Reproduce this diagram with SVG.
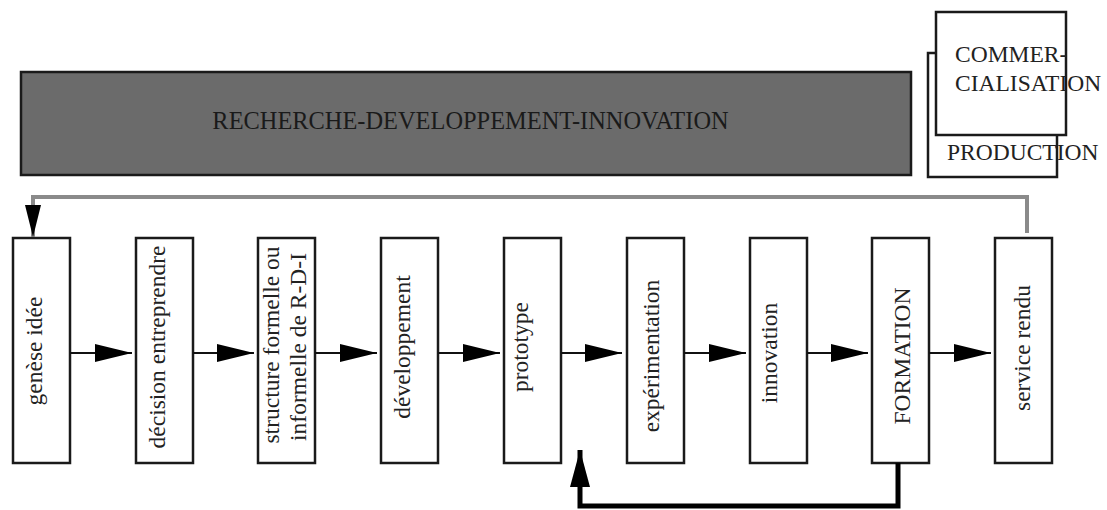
<svg xmlns="http://www.w3.org/2000/svg" width="1107" height="510" viewBox="0 0 1107 510">
<style>
.box{fill:#fff;stroke:#1a1a1a;stroke-width:2.5}
.t{font-family:"Liberation Serif","Times New Roman",serif;font-size:23.5px;fill:#222}
.big{font-family:"Liberation Serif","Times New Roman",serif;font-size:24.4px;fill:#1a1a1a;text-anchor:middle}
.vt{font-family:"Liberation Serif","Times New Roman",serif;font-size:23.5px;fill:#222;text-anchor:middle}
.ln{fill:none;stroke:#111;stroke-width:2}
</style>
<defs>
<marker id="ah" markerUnits="userSpaceOnUse" markerWidth="37" markerHeight="18" refX="37" refY="9" orient="auto">
<path d="M0,0 L37,9 L0,18 z" fill="#000"/>
</marker>
<marker id="ahTop" markerUnits="userSpaceOnUse" markerWidth="32" markerHeight="16" refX="32" refY="8" orient="auto">
<path d="M0,0 L32,8 L0,16 z" fill="#000"/>
</marker>
<marker id="ahUp" markerUnits="userSpaceOnUse" markerWidth="37" markerHeight="20" refX="37" refY="10" orient="auto">
<path d="M0,0 L37,10 L0,20 z" fill="#000"/>
</marker>
</defs>

<g id="rdi">
<rect x="21" y="72" width="890" height="103" fill="#6b6b6b" stroke="#1a1a1a" stroke-width="2.5"/>
<text class="big" x="470.5" y="129">RECHERCHE-DEVELOPPEMENT-INNOVATION</text>
</g>

<g id="production">
<rect class="box" x="928" y="53" width="129" height="124"/>
<text class="t" x="947" y="160">PRODUCTION</text>
</g>
<g id="commercialisation">
<rect class="box" x="936" y="12" width="130" height="123"/>
<text class="t" x="955" y="62">COMMER-</text>
<text class="t" x="955" y="91">CIALISATION</text>
</g>

<g id="n1"><rect class="box" x="13" y="238" width="57" height="225"/>
<text class="vt" transform="translate(42,351) rotate(-90)">genèse idée</text></g>
<g id="n2"><rect class="box" x="136" y="238" width="57" height="225"/>
<text class="vt" transform="translate(165,347) rotate(-90)">décision entreprendre</text></g>
<g id="n3"><rect class="box" x="258" y="238" width="57" height="225"/>
<text class="vt" transform="translate(279,345) rotate(-90)">structure formelle ou</text>
<text class="vt" transform="translate(306,347) rotate(-90)">informelle de R-D-I</text></g>
<g id="n4"><rect class="box" x="381" y="238" width="57" height="225"/>
<text class="vt" transform="translate(410,347) rotate(-90)">développement</text></g>
<g id="n5"><rect class="box" x="504" y="238" width="57" height="225"/>
<text class="vt" transform="translate(528,347) rotate(-90)">prototype</text></g>
<g id="n6"><rect class="box" x="627" y="238" width="57" height="225"/>
<text class="vt" transform="translate(659,356) rotate(-90)">expérimentation</text></g>
<g id="n7"><rect class="box" x="750" y="238" width="57" height="225"/>
<text class="vt" transform="translate(777,353) rotate(-90)">innovation</text></g>
<g id="n8"><rect class="box" x="872" y="238" width="57" height="225"/>
<text class="vt" transform="translate(910,356) rotate(-90)">FORMATION</text></g>
<g id="n9"><rect class="box" x="995" y="238" width="57" height="225"/>
<text class="vt" transform="translate(1030,348) rotate(-90)">service rendu</text></g>

<g id="connectors">
<line class="ln" x1="70" y1="353" x2="132" y2="353" marker-end="url(#ah)"/>
<line class="ln" x1="193" y1="353" x2="254" y2="353" marker-end="url(#ah)"/>
<line class="ln" x1="315" y1="353" x2="377" y2="353" marker-end="url(#ah)"/>
<line class="ln" x1="438" y1="353" x2="500" y2="353" marker-end="url(#ah)"/>
<line class="ln" x1="561" y1="353" x2="622" y2="353" marker-end="url(#ah)"/>
<line class="ln" x1="684" y1="353" x2="746" y2="353" marker-end="url(#ah)"/>
<line class="ln" x1="807" y1="353" x2="868" y2="353" marker-end="url(#ah)"/>
<line class="ln" x1="929" y1="353" x2="991" y2="353" marker-end="url(#ah)"/>
<path d="M1027,233 L1027,197 L33,197 L33,237" fill="none" stroke="#8a8a8a" stroke-width="4" marker-end="url(#ahTop)"/>
<path d="M898,463 L898,506 L580,506 L580,450" fill="none" stroke="#000" stroke-width="5" marker-end="url(#ahUp)"/>
</g>
</svg>
